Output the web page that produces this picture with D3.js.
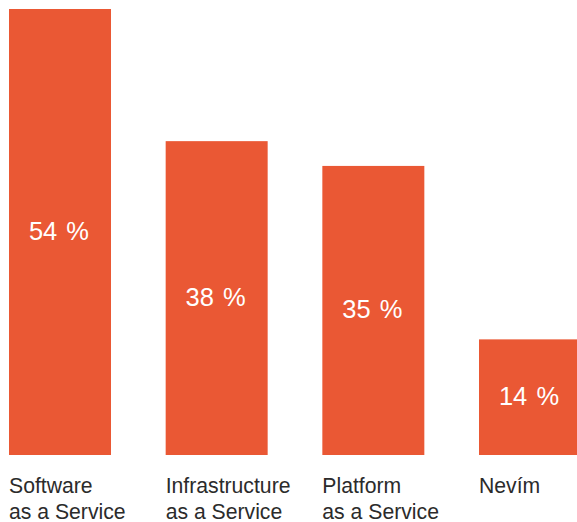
<!DOCTYPE html>
<html>
<head>
<meta charset="utf-8">
<script src="https://cdn.jsdelivr.net/npm/d3@7"></script>
<style>
  html, body { margin: 0; padding: 0; background: #ffffff; }
  svg { display: block; }
</style>
</head>
<body>
<div id="chart"></div>
<script>
// Cloud service models in use (share of respondents, %)
const categories = ["Software as a Service", "Infrastructure as a Service", "Platform as a Service", "Nevím"];
const categoryLines = [["Software", "as a Service"], ["Infrastructure", "as a Service"], ["Platform", "as a Service"], ["Nevím"]];
const values = [54, 38, 35, 14];

const width = 577, height = 522;
const barColor = "#EA5834";
const textColor = "#2b2b2b";

const svg = d3.select("#chart").append("svg")
  .attr("width", width)
  .attr("height", height);

const x = d3.scaleBand()
  .domain(categories)
  .range([9, 581])
  .paddingInner(0.349)
  .paddingOuter(0);

const y = d3.scaleLinear()
  .domain([0, 54])
  .range([455, 9]);

const data = categories.map((c, i) => ({ cat: c, value: values[i], lines: categoryLines[i] }));

// bars
svg.append("g").selectAll("rect")
  .data(data)
  .join("rect")
  .attr("x", d => x(d.cat))
  .attr("y", d => y(d.value))
  .attr("width", x.bandwidth())
  .attr("height", d => y(0) - y(d.value))
  .attr("fill", barColor);

// value labels centred inside each bar
svg.append("g").selectAll("text")
  .data(data)
  .join("text")
  .attr("x", d => x(d.cat) + x.bandwidth() / 2 - 1)
  .attr("y", d => (y(d.value) + y(0)) / 2 + 7.5)
  .attr("text-anchor", "middle")
  .attr("fill", "#ffffff")
  .style("font-family", "'Liberation Sans', Arial, Helvetica, sans-serif")
  .style("font-size", "25.5px")
  .style("word-spacing", "2px")
  .text(d => d.value + " %");

// category labels below the bars
const labels = svg.append("g").selectAll("text")
  .data(data)
  .join("text")
  .attr("x", d => x(d.cat))
  .attr("y", 493)
  .attr("fill", textColor)
  .style("font-family", "'Liberation Sans', Arial, Helvetica, sans-serif")
  .style("font-size", "21.2px");

labels.selectAll("tspan")
  .data(d => d.lines.map(l => ({ line: l, x: x(d.cat) })))
  .join("tspan")
  .attr("x", d => d.x)
  .attr("dy", (d, i) => i === 0 ? 0 : 25.5)
  .text(d => d.line);
</script>
</body>
</html>
